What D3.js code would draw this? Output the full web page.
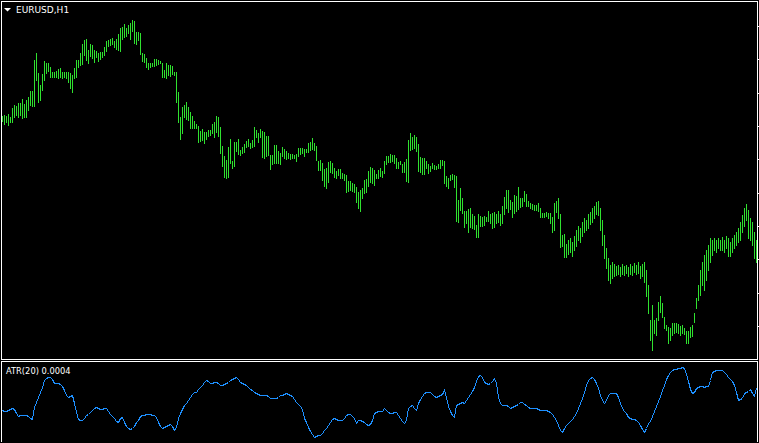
<!DOCTYPE html>
<html>
<head>
<meta charset="utf-8">
<script src="https://cdn.jsdelivr.net/npm/d3@7"></script>
<style>
html, body { margin: 0; padding: 0; background: #000; overflow: hidden; }
svg { display: block; }
</style>
</head>
<body>
<svg width="759" height="443"></svg>
<script>
var symbol = "EURUSD,H1";
var atrPeriod = 20;

// bar highs / lows, one per H1 bar
var highs = [
1.09230,1.09233,1.09230,1.09236,1.09227,1.09254,1.09263,1.09260,1.09269,1.09269,
1.09281,1.09266,1.09278,1.09287,1.09305,1.09305,1.09398,1.09419,1.09359,1.09323,
1.09356,1.09395,1.09389,1.09389,1.09377,1.09362,1.09362,1.09365,1.09371,1.09374,
1.09362,1.09362,1.09362,1.09362,1.09359,1.09353,1.09374,1.09398,1.09398,1.09419,
1.09446,1.09458,1.09461,1.09428,1.09446,1.09443,1.09428,1.09425,1.09419,1.09422,
1.09422,1.09437,1.09455,1.09458,1.09461,1.09464,1.09455,1.09461,1.09476,1.09494,
1.09497,1.09506,1.09494,1.09503,1.09509,1.09518,1.09515,1.09482,1.09482,1.09479,
1.09419,1.09416,1.09404,1.09389,1.09389,1.09389,1.09401,1.09401,1.09398,1.09395,
1.09389,1.09368,1.09389,1.09383,1.09383,1.09380,1.09362,1.09362,1.09302,1.09227,
1.09257,1.09263,1.09272,1.09257,1.09242,1.09230,1.09215,1.09206,1.09200,1.09185,
1.09191,1.09182,1.09182,1.09188,1.09188,1.09206,1.09212,1.09230,1.09227,1.09197,
1.09140,1.09110,1.09098,1.09137,1.09161,1.09095,1.09152,1.09152,1.09161,1.09128,
1.09137,1.09146,1.09155,1.09161,1.09149,1.09158,1.09197,1.09188,1.09179,1.09191,
1.09185,1.09182,1.09170,1.09170,1.09113,1.09113,1.09143,1.09143,1.09125,1.09119,
1.09137,1.09131,1.09125,1.09119,1.09116,1.09116,1.09113,1.09116,1.09134,1.09134,
1.09134,1.09131,1.09131,1.09149,1.09152,1.09164,1.09149,1.09140,1.09095,1.09098,
1.09089,1.09071,1.09074,1.09092,1.09095,1.09089,1.09074,1.09065,1.09071,1.09071,
1.09059,1.09056,1.09053,1.09035,1.09035,1.09029,1.09026,1.09017,1.09002,1.09008,
1.09014,1.09038,1.09041,1.09065,1.09077,1.09074,1.09068,1.09056,1.09068,1.09074,
1.09065,1.09095,1.09110,1.09110,1.09116,1.09113,1.09113,1.09104,1.09092,1.09095,
1.09086,1.09092,1.09101,1.09158,1.09179,1.09167,1.09173,1.09167,1.09146,1.09107,
1.09104,1.09104,1.09095,1.09086,1.09080,1.09089,1.09083,1.09080,1.09086,1.09098,
1.09098,1.09095,1.09050,1.09044,1.09053,1.09056,1.09053,1.09050,1.08978,1.09014,
1.08984,1.08945,1.08945,1.08951,1.08954,1.08936,1.08930,1.08903,1.08936,1.08930,
1.08927,1.08930,1.08927,1.08945,1.08936,1.08939,1.08942,1.08936,1.08945,1.08936,
1.08960,1.08987,1.09008,1.09008,1.08978,1.08972,1.08993,1.08990,1.09017,1.08984,
1.08984,1.09005,1.08996,1.08975,1.08969,1.08966,1.08963,1.08963,1.08969,1.08954,
1.08939,1.08939,1.08942,1.08939,1.08939,1.08927,1.08969,1.08975,1.08984,1.08936,
1.08873,1.08876,1.08846,1.08858,1.08864,1.08852,1.08870,1.08888,1.08900,1.08894,
1.08912,1.08924,1.08918,1.08936,1.08942,1.08954,1.08960,1.08972,1.08975,1.08954,
1.08918,1.08873,1.08834,1.08804,1.08783,1.08792,1.08786,1.08780,1.08783,1.08777,
1.08786,1.08780,1.08783,1.08777,1.08786,1.08780,1.08789,1.08783,1.08792,1.08780,
1.08786,1.08792,1.08768,1.08723,1.08618,1.08663,1.08618,1.08624,1.08672,1.08690,
1.08669,1.08627,1.08603,1.08597,1.08594,1.08609,1.08609,1.08609,1.08606,1.08600,
1.08603,1.08594,1.08585,1.08585,1.08597,1.08603,1.08639,1.08684,1.08723,1.08768,
1.08792,1.08813,1.08828,1.08843,1.08864,1.08858,1.08864,1.08858,1.08864,1.08858,
1.08867,1.08858,1.08870,1.08864,1.08852,1.08864,1.08873,1.08882,1.08894,1.08912,
1.08933,1.08954,1.08966,1.08948,1.08924,1.08912,1.08882,1.08858
];

var lows = [
1.09215,1.09206,1.09212,1.09203,1.09212,1.09212,1.09227,1.09233,1.09227,1.09233,
1.09224,1.09227,1.09227,1.09248,1.09263,1.09260,1.09260,1.09338,1.09272,1.09278,
1.09308,1.09338,1.09359,1.09365,1.09347,1.09347,1.09347,1.09347,1.09344,1.09347,
1.09344,1.09347,1.09344,1.09332,1.09314,1.09302,1.09344,1.09347,1.09377,1.09383,
1.09386,1.09413,1.09398,1.09389,1.09410,1.09404,1.09392,1.09407,1.09395,1.09401,
1.09407,1.09413,1.09425,1.09440,1.09443,1.09446,1.09437,1.09431,1.09428,1.09425,
1.09461,1.09467,1.09470,1.09479,1.09461,1.09485,1.09449,1.09446,1.09458,1.09416,
1.09395,1.09392,1.09377,1.09371,1.09377,1.09380,1.09380,1.09383,1.09386,1.09389,
1.09347,1.09347,1.09344,1.09353,1.09350,1.09356,1.09353,1.09272,1.09212,1.09161,
1.09179,1.09227,1.09221,1.09218,1.09194,1.09194,1.09194,1.09194,1.09152,1.09155,
1.09158,1.09149,1.09161,1.09170,1.09173,1.09179,1.09167,1.09182,1.09170,1.09119,
1.09080,1.09047,1.09044,1.09047,1.09089,1.09074,1.09080,1.09125,1.09116,1.09113,
1.09119,1.09122,1.09137,1.09140,1.09134,1.09137,1.09140,1.09167,1.09152,1.09167,
1.09107,1.09104,1.09110,1.09113,1.09071,1.09086,1.09089,1.09089,1.09089,1.09086,
1.09110,1.09104,1.09101,1.09104,1.09101,1.09104,1.09104,1.09095,1.09110,1.09116,
1.09119,1.09110,1.09122,1.09122,1.09128,1.09131,1.09128,1.09098,1.09068,1.09068,
1.09038,1.09020,1.09014,1.09032,1.09062,1.09059,1.09047,1.09044,1.09053,1.09044,
1.09044,1.09038,1.09002,1.09005,1.09008,1.09005,1.09002,1.08972,1.08954,1.08945,
1.08984,1.08999,1.09002,1.09020,1.09032,1.09029,1.09023,1.09044,1.09044,1.09050,
1.09047,1.09059,1.09086,1.09092,1.09092,1.09095,1.09089,1.09074,1.09074,1.09086,
1.09062,1.09062,1.09035,1.09032,1.09128,1.09131,1.09134,1.09125,1.09065,1.09062,
1.09056,1.09056,1.09074,1.09059,1.09065,1.09074,1.09071,1.09071,1.09074,1.09074,
1.09083,1.09029,1.09020,1.09014,1.09038,1.09041,1.09017,1.08915,1.08912,1.08948,
1.08939,1.08897,1.08909,1.08882,1.08897,1.08894,1.08891,1.08867,1.08867,1.08900,
1.08900,1.08903,1.08915,1.08915,1.08909,1.08894,1.08897,1.08909,1.08912,1.08903,
1.08909,1.08936,1.08954,1.08942,1.08951,1.08927,1.08939,1.08945,1.08951,1.08957,
1.08960,1.08975,1.08960,1.08960,1.08954,1.08951,1.08948,1.08948,1.08945,1.08927,
1.08927,1.08927,1.08930,1.08924,1.08909,1.08882,1.08888,1.08942,1.08924,1.08837,
1.08840,1.08807,1.08807,1.08816,1.08822,1.08810,1.08828,1.08840,1.08858,1.08852,
1.08870,1.08882,1.08888,1.08894,1.08906,1.08912,1.08924,1.08936,1.08933,1.08888,
1.08843,1.08804,1.08774,1.08738,1.08729,1.08744,1.08750,1.08753,1.08756,1.08750,
1.08756,1.08753,1.08759,1.08750,1.08756,1.08753,1.08762,1.08756,1.08759,1.08744,
1.08750,1.08732,1.08690,1.08639,1.08558,1.08528,1.08579,1.08573,1.08618,1.08642,
1.08627,1.08594,1.08588,1.08549,1.08558,1.08573,1.08579,1.08582,1.08579,1.08573,
1.08579,1.08576,1.08549,1.08549,1.08567,1.08570,1.08612,1.08654,1.08678,1.08693,
1.08723,1.08708,1.08738,1.08768,1.08792,1.08813,1.08828,1.08822,1.08834,1.08828,
1.08828,1.08822,1.08834,1.08810,1.08810,1.08822,1.08834,1.08843,1.08852,1.08858,
1.08882,1.08900,1.08918,1.08864,1.08858,1.08843,1.08804,1.08792
];

// ATR(20) per bar
var atr = [
0.000312,0.000308,0.000308,0.000312,0.000316,0.000320,0.000316,0.000300,0.000288,0.000292,
0.000292,0.000292,0.000292,0.000288,0.000280,0.000276,0.000324,0.000344,0.000364,0.000384,
0.000404,0.000432,0.000440,0.000444,0.000444,0.000436,0.000420,0.000420,0.000420,0.000416,
0.000408,0.000392,0.000372,0.000364,0.000368,0.000372,0.000340,0.000304,0.000276,0.000272,
0.000272,0.000280,0.000292,0.000296,0.000304,0.000312,0.000320,0.000324,0.000320,0.000316,
0.000316,0.000320,0.000320,0.000308,0.000296,0.000288,0.000280,0.000268,0.000264,0.000280,
0.000284,0.000264,0.000248,0.000240,0.000236,0.000240,0.000248,0.000264,0.000272,0.000288,
0.000292,0.000292,0.000296,0.000296,0.000296,0.000292,0.000292,0.000284,0.000264,0.000248,
0.000240,0.000244,0.000248,0.000252,0.000256,0.000248,0.000232,0.000244,0.000280,0.000300,
0.000316,0.000332,0.000340,0.000352,0.000364,0.000376,0.000384,0.000384,0.000396,0.000404,
0.000412,0.000424,0.000432,0.000428,0.000420,0.000420,0.000424,0.000424,0.000420,0.000412,
0.000412,0.000416,0.000420,0.000424,0.000432,0.000436,0.000440,0.000444,0.000436,0.000424,
0.000420,0.000416,0.000412,0.000404,0.000396,0.000392,0.000384,0.000380,0.000376,0.000372,
0.000372,0.000372,0.000372,0.000368,0.000360,0.000360,0.000360,0.000360,0.000364,0.000372,
0.000372,0.000376,0.000380,0.000376,0.000372,0.000368,0.000356,0.000344,0.000336,0.000328,
0.000316,0.000280,0.000264,0.000244,0.000228,0.000216,0.000204,0.000208,0.000212,0.000212,
0.000220,0.000232,0.000240,0.000252,0.000264,0.000276,0.000280,0.000276,0.000272,0.000272,
0.000272,0.000280,0.000292,0.000296,0.000296,0.000288,0.000280,0.000260,0.000272,0.000272,
0.000268,0.000264,0.000256,0.000252,0.000256,0.000272,0.000300,0.000304,0.000308,0.000308,
0.000308,0.000320,0.000312,0.000304,0.000300,0.000300,0.000304,0.000304,0.000292,0.000280,
0.000268,0.000260,0.000272,0.000320,0.000328,0.000332,0.000320,0.000312,0.000340,0.000356,
0.000368,0.000380,0.000384,0.000384,0.000384,0.000376,0.000368,0.000364,0.000368,0.000372,
0.000376,0.000392,0.000364,0.000328,0.000308,0.000292,0.000284,0.000332,0.000336,0.000340,
0.000344,0.000340,0.000352,0.000364,0.000376,0.000388,0.000404,0.000428,0.000448,0.000452,
0.000444,0.000424,0.000420,0.000416,0.000420,0.000428,0.000440,0.000420,0.000364,0.000340,
0.000332,0.000332,0.000332,0.000328,0.000320,0.000324,0.000328,0.000332,0.000336,0.000344,
0.000344,0.000336,0.000332,0.000324,0.000320,0.000320,0.000320,0.000320,0.000316,0.000312,
0.000312,0.000312,0.000312,0.000308,0.000304,0.000296,0.000284,0.000272,0.000252,0.000232,
0.000224,0.000240,0.000252,0.000260,0.000268,0.000276,0.000288,0.000300,0.000320,0.000340,
0.000360,0.000384,0.000412,0.000432,0.000440,0.000444,0.000436,0.000420,0.000400,0.000372,
0.000352,0.000340,0.000352,0.000372,0.000380,0.000380,0.000380,0.000380,0.000364,0.000340,
0.000320,0.000308,0.000300,0.000284,0.000280,0.000276,0.000276,0.000272,0.000264,0.000252,
0.000236,0.000224,0.000240,0.000260,0.000268,0.000288,0.000308,0.000328,0.000348,0.000368,
0.000392,0.000412,0.000436,0.000452,0.000464,0.000472,0.000476,0.000476,0.000480,0.000480,
0.000484,0.000480,0.000456,0.000428,0.000396,0.000380,0.000384,0.000400,0.000404,0.000408,
0.000408,0.000404,0.000408,0.000408,0.000432,0.000464,0.000468,0.000472,0.000472,0.000472,
0.000472,0.000464,0.000456,0.000444,0.000436,0.000428,0.000412,0.000384,0.000352,0.000356,
0.000360,0.000380,0.000384,0.000388,0.000396,0.000380,0.000368,0.000400
];

// right-hand price scale ticks
var priceTicks = [1.0950, 1.0940, 1.0930, 1.0920, 1.0910, 1.0900, 1.0890, 1.0880, 1.0870, 1.0860];

var svg = d3.select("svg"),
    width = +svg.attr("width"),
    height = +svg.attr("height");

var frameLeft = 1, frameRight = 757;
var mainTop = 1, mainBottom = 359;
var subTop = 361, subBottom = 442;

svg.append("rect")
    .attr("width", width)
    .attr("height", height)
    .attr("fill", "#000");

// one bar every 2px
var x = d3.scaleLinear()
    .domain([0, highs.length - 1])
    .range([2, 2 + 2 * (highs.length - 1)]);

var y = d3.scaleLinear()
    .domain([1.09578, 1.08504])
    .range([0, 358]);

// indicator window fits min..max of the visible values
var yAtr = d3.scaleLinear()
    .domain(d3.extent(atr))
    .range([437, 367]);

// price bars (high-low)
svg.append("g")
    .attr("fill", "#2fe12f")
    .attr("shape-rendering", "crispEdges")
    .selectAll("rect")
    .data(highs)
    .join("rect")
    .attr("x", function (d, i) { return x(i); })
    .attr("y", function (d) { return Math.round(y(d)); })
    .attr("width", 1)
    .attr("height", function (d, i) {
        return Math.round(y(lows[i])) - Math.round(y(d)) + 1;
    });

// ATR line
var atrLine = d3.line()
    .x(function (d, i) { return x(i) + 0.5; })
    .y(function (d) { return Math.round(yAtr(d)) + 0.5; });

svg.append("path")
    .datum(atr)
    .attr("fill", "none")
    .attr("stroke", "#1e90ff")
    .attr("stroke-width", 1)
    .attr("shape-rendering", "crispEdges")
    .attr("d", atrLine);

// window frames
var frame = svg.append("g")
    .attr("fill", "none")
    .attr("stroke", "#fff")
    .attr("shape-rendering", "crispEdges");

frame.append("rect")
    .attr("x", frameLeft + 0.5)
    .attr("y", mainTop + 0.5)
    .attr("width", frameRight - frameLeft)
    .attr("height", mainBottom - mainTop);

frame.append("path")
    .attr("d", "M" + (frameLeft + 0.5) + "," + subBottom +
        "V" + (subTop + 0.5) + "H" + (frameRight + 0.5) + "V" + subBottom);

// price scale tick marks (labels fall outside the window)
var axis = svg.append("g")
    .attr("transform", "translate(" + (frameRight + 0.5) + ",0)")
    .call(d3.axisRight(y).tickValues(priceTicks).tickSize(2).tickFormat(""));
axis.select(".domain").remove();
axis.selectAll("line").attr("stroke", "#fff").attr("shape-rendering", "crispEdges");

// symbol label
svg.append("path")
    .attr("d", "M4,8H11L7.5,11.5Z")
    .attr("fill", "#fff");

svg.append("text")
    .attr("x", 16)
    .attr("y", 13)
    .attr("fill", "#fff")
    .attr("font-family", "DejaVu Sans")
    .attr("font-size", "9px")
    .text(symbol);

svg.append("text")
    .attr("x", 6)
    .attr("y", 373.5)
    .attr("fill", "#fff")
    .attr("font-family", "DejaVu Sans")
    .attr("font-size", "8.3px")
    .text("ATR(" + atrPeriod + ") " + atr[atr.length - 1].toFixed(4));
</script>
</body>
</html>
